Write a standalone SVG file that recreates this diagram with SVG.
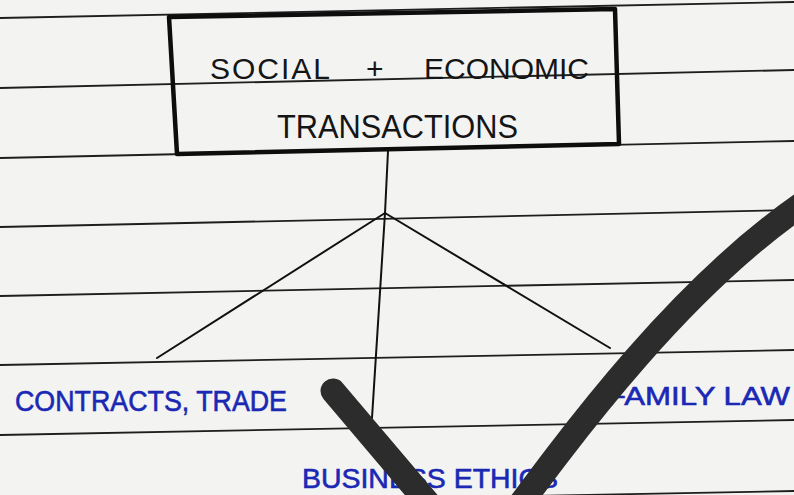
<svg xmlns="http://www.w3.org/2000/svg" width="794" height="495" viewBox="0 0 794 495">
  <style>
    .rule { stroke: #1e1e1e; stroke-width: 1.8; fill: none; }
    .box { stroke: #0d0d0d; stroke-width: 4.5; fill: none; stroke-linejoin: round; }
    .conn { stroke: #111; stroke-width: 2; fill: none; stroke-linecap: round; }
    .head { font-family: "Liberation Sans", "DejaVu Sans", sans-serif; fill: #151515; }
    .lbl { font-family: "Liberation Sans", "DejaVu Sans", sans-serif; fill: #1a28b4; stroke: #1a28b4; stroke-width: 0.6; }
    .tick { stroke: #2c2c2c; stroke-width: 25; fill: none; stroke-linecap: round; stroke-linejoin: round; }
  </style>
  <rect x="0" y="0" width="794" height="495" fill="#f3f3f2"/>
  <g id="paper-lines">
    <line class="rule" x1="0" y1="18" x2="794" y2="2"/>
    <line class="rule" x1="0" y1="88" x2="794" y2="70"/>
    <line class="rule" x1="0" y1="158" x2="794" y2="141"/>
    <line class="rule" x1="0" y1="227" x2="794" y2="210"/>
    <line class="rule" x1="0" y1="296" x2="794" y2="280"/>
    <line class="rule" x1="0" y1="365" x2="794" y2="350"/>
    <line class="rule" x1="0" y1="435" x2="794" y2="420"/>
    <line class="rule" x1="0" y1="506" x2="794" y2="491"/>
  </g>
  <g id="connectors">
    <line class="conn" x1="388" y1="151" x2="385" y2="213"/>
    <line class="conn" x1="385" y1="213" x2="157" y2="358"/>
    <line class="conn" x1="385" y1="213" x2="372" y2="418"/>
    <line class="conn" x1="385" y1="213" x2="610" y2="348"/>
  </g>
  <g id="node-root">
    <polygon class="box" points="169,17 615,9 619,144 177,154"/>
    <text class="head" y="79" font-size="30"><tspan x="210" letter-spacing="2">SOCIAL </tspan><tspan x="366">+ </tspan><tspan x="424">ECONOMIC</tspan></text>
    <text class="head" x="277" y="138" font-size="33" textLength="241" lengthAdjust="spacingAndGlyphs">TRANSACTIONS</text>
  </g>
  <g id="node-contracts">
    <text class="lbl" x="15" y="411" font-size="29" textLength="272" lengthAdjust="spacingAndGlyphs">CONTRACTS, TRADE</text>
  </g>
  <g id="node-business">
    <text class="lbl" x="302" y="488" font-size="28" textLength="256" lengthAdjust="spacingAndGlyphs">BUSINESS ETHICS</text>
  </g>
  <g id="node-family">
    <text class="lbl" x="607" y="405" font-size="26" textLength="183" lengthAdjust="spacingAndGlyphs">FAMILY LAW</text>
  </g>
  <g id="checkmark">
    <path class="tick" d="M333 391 L478 562 C560 450 680 280 825 189"/>
  </g>
</svg>
